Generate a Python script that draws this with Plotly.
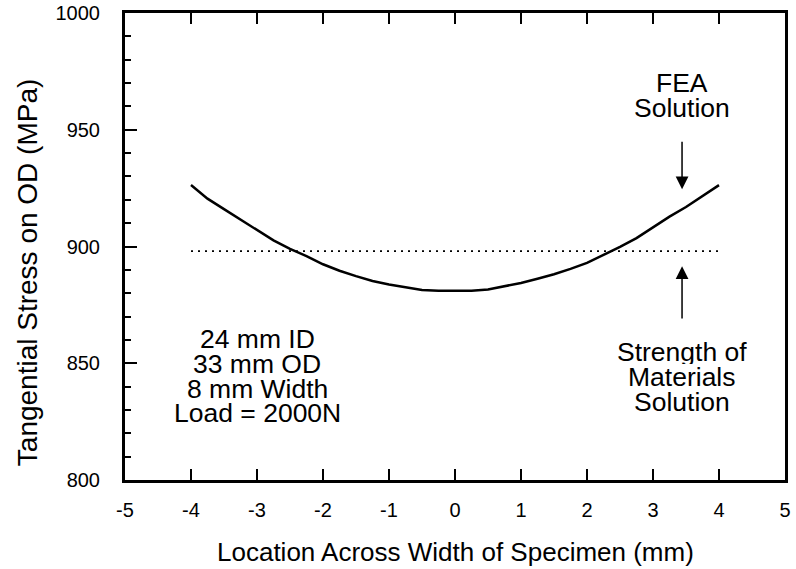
import plotly.graph_objects as go

x_fea = [-4, -3.75, -3.5, -3.25, -3, -2.75, -2.5, -2.25, -2, -1.75, -1.5, -1.25, -1,
         -0.75, -0.5, -0.25, 0, 0.25, 0.5, 0.75, 1, 1.25, 1.5, 1.75, 2, 2.25, 2.5,
         2.75, 3, 3.25, 3.5, 3.75, 4]
y_fea = [926.3, 920.5, 916.0, 911.6, 906.9, 902.6, 899.0, 895.9, 892.4, 889.6, 887.3,
         885.2, 883.7, 882.5, 881.4, 881.1, 881.1, 881.1, 881.6, 883.0, 884.4, 886.2,
         888.1, 890.4, 893.0, 896.4, 899.8, 903.6, 908.3, 912.8, 916.9, 921.5, 926.3]
x_som = [-4, 4]
y_som = [898, 898]

x_tickvals = [-5, -4, -3, -2, -1, 0, 1, 2, 3, 4, 5]
x_ticktext = ["-5", "-4", "-3", "-2", "-1", "0", "1", "2", "3", "4", "5"]
y_tickvals = [800, 850, 900, 950, 1000]
y_ticktext = ["800", "850", "900", "950", "1000"]

x_title = "Location Across Width of Specimen (mm)"
y_title = "Tangential Stress on OD (MPa)"

fea_label = ["FEA", "Solution"]
fea_label_y = [970.0, 959.3]
som_label = ["Strength of", "Materials", "Solution"]
som_label_y = [855.0, 844.3, 833.6]
spec_label = ["24 mm ID", "33 mm OD", "8 mm Width", "Load = 2000N"]
spec_label_y = [860.4, 849.7, 839.0, 828.7]

FONT = "Liberation Sans, Arial, Helvetica, sans-serif"

fig = go.Figure()
fig.add_trace(go.Scatter(x=x_fea, y=y_fea, mode="lines",
                         line=dict(color="black", width=2.5), showlegend=False))
fig.add_trace(go.Scatter(x=x_som, y=y_som, mode="lines",
                         line=dict(color="black", width=1.6, dash="2px,5px"),
                         showlegend=False))

fig.update_layout(
    width=796, height=569,
    margin=dict(l=125, r=11, t=13, b=89),
    paper_bgcolor="white", plot_bgcolor="white",
    font=dict(family=FONT, size=20, color="black"),
    xaxis=dict(range=[-5, 5], tickmode="array", tickvals=x_tickvals,
               ticktext=x_ticktext, ticks="inside", ticklen=11,
               tickwidth=1.5, tickcolor="black", showline=True, linecolor="black",
               linewidth=3, mirror="ticks", showgrid=False, zeroline=False,
               automargin=False, ticklabelstandoff=10,
               tickfont=dict(size=20)),
    yaxis=dict(range=[800, 1000], tickmode="array", tickvals=y_tickvals,
               ticktext=y_ticktext, ticks="inside", ticklen=12,
               tickwidth=1.5, tickcolor="black", showline=True, linecolor="black",
               linewidth=3, mirror=True, showgrid=False, zeroline=False,
               automargin=False, ticklabelstandoff=18,
               minor=dict(dtick=10, tick0=800, ticks="inside", ticklen=6,
                          tickwidth=1.5, tickcolor="black", showgrid=False),
               tickfont=dict(size=20)),
)

# axis titles
fig.add_annotation(x=0.5, y=-0.154, xref="paper", yref="paper", text=x_title,
                   showarrow=False, font=dict(size=26), xanchor="center",
                   yanchor="middle")
fig.add_annotation(x=-0.1485, y=0.445, xref="paper", yref="paper", text=y_title,
                   showarrow=False, font=dict(size=28), textangle=-90,
                   xanchor="center", yanchor="middle")

fig.add_annotation(x=3.44, y=924.5, ax=3.44, ay=945.5, xref="x", yref="y",
                   axref="x", ayref="y", text="", showarrow=True, arrowhead=2,
                   arrowsize=1.7, arrowwidth=1.5, arrowcolor="black")
fig.add_annotation(x=3.44, y=891.5, ax=3.44, ay=868.5, xref="x", yref="y",
                   axref="x", ayref="y", text="", showarrow=True, arrowhead=2,
                   arrowsize=1.7, arrowwidth=1.5, arrowcolor="black")

for txt, yy in zip(fea_label, fea_label_y):
    fig.add_annotation(x=3.44, y=yy, xref="x", yref="y", text=txt, height=24,
                       showarrow=False, font=dict(size=26.5), yanchor="middle")
for txt, yy in zip(som_label, som_label_y):
    fig.add_annotation(x=3.44, y=yy, xref="x", yref="y", text=txt, height=24,
                       showarrow=False, font=dict(size=26.5), yanchor="middle")
for txt, yy in zip(spec_label, spec_label_y):
    fig.add_annotation(x=-3.0, y=yy, xref="x", yref="y", text=txt, height=24,
                       showarrow=False, font=dict(size=26.5), yanchor="middle")

fig.write_html("out.html", config={"displayModeBar": False},
               post_script="document.body.style.margin='0px';")
